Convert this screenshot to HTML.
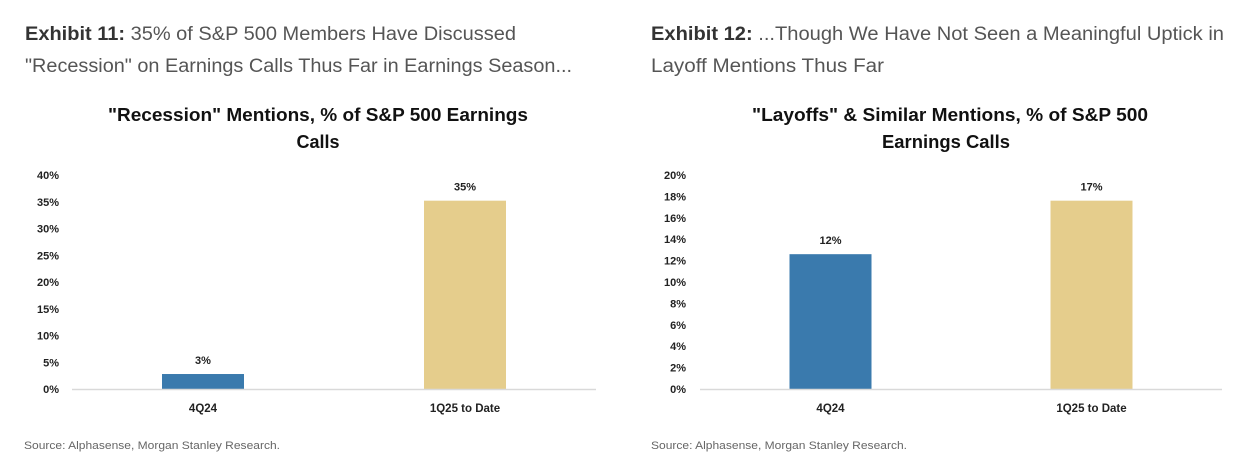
<!DOCTYPE html>
<html><head><meta charset="utf-8"><style>
html,body{margin:0;padding:0;background:#fff;}
svg{display:block;font-family:"Liberation Sans",sans-serif;}
</style></head><body>
<svg id="c" width="1236" height="474" viewBox="0 0 1236 474">
<g fill="#555" font-size="19">
<text x="25" y="40" textLength="491" lengthAdjust="spacingAndGlyphs"><tspan font-weight="bold" fill="#333">Exhibit 11:</tspan>  35% of S&amp;P 500 Members Have Discussed</text>
<text x="25" y="72" textLength="547" lengthAdjust="spacingAndGlyphs">"Recession" on Earnings Calls Thus Far in Earnings Season...</text>
</g>
<g fill="#555" font-size="19">
<text x="651" y="40" textLength="573" lengthAdjust="spacingAndGlyphs"><tspan font-weight="bold" fill="#333">Exhibit 12:</tspan>  ...Though We Have Not Seen a Meaningful Uptick in</text>
<text x="651" y="72" textLength="233" lengthAdjust="spacingAndGlyphs">Layoff Mentions Thus Far</text>
</g>
<g font-weight="bold" font-size="18" fill="#111" text-anchor="middle">
<text x="318" y="121" textLength="420" lengthAdjust="spacingAndGlyphs">"Recession" Mentions, % of S&amp;P 500 Earnings</text>
<text x="318" y="148">Calls</text>
</g>
<g font-weight="bold" font-size="18" fill="#111" text-anchor="middle">
<text x="950" y="121" textLength="396" lengthAdjust="spacingAndGlyphs">"Layoffs" &amp; Similar Mentions, % of S&amp;P 500</text>
<text x="946" y="148" textLength="128" lengthAdjust="spacingAndGlyphs">Earnings Calls</text>
</g>
<text x="24" y="449" font-size="11" fill="#666" textLength="256" lengthAdjust="spacingAndGlyphs">Source: Alphasense, Morgan Stanley Research.</text>
<text x="651" y="449" font-size="11" fill="#666" textLength="256" lengthAdjust="spacingAndGlyphs">Source: Alphasense, Morgan Stanley Research.</text>
<g id="left"></g>
<g id="right"></g>
</svg>
<script>
const categories = ["4Q24", "1Q25 to Date"];
const recessionValues = [2.8, 35.2];
const recessionLabels = ["3%", "35%"];
const recessionTicks = [0, 5, 10, 15, 20, 25, 30, 35, 40];
const layoffValues = [12.6, 17.6];
const layoffLabels = ["12%", "17%"];
const layoffTicks = [0, 2, 4, 6, 8, 10, 12, 14, 16, 18, 20];
const barColors = ["#3a7aad", "#e5cd8c"];
const NS = "http://www.w3.org/2000/svg";
function mk(tag, attrs, parent){const e=document.createElementNS(NS,tag);for(const k in attrs)e.setAttribute(k,attrs[k]);parent.appendChild(e);return e;}
function draw(g, prefix, cfg, values, labels, ticks){
  const y0=389, y1=175, maxV=ticks[ticks.length-1];
  const y=v=>y0-(v/maxV)*(y0-y1);
  const band=(cfg.x1-cfg.x0)/categories.length;
  const bw=82;
  const xc=i=>cfg.x0+band*(i+0.5);
  ticks.forEach(t=>{
    const tx=mk("text",{x:cfg.tickX,y:y(t)+4,"font-size":"11","font-weight":"bold",fill:"#222","text-anchor":"end"},g);
    
    
    tx.textContent=t+"%";
  });
  categories.forEach((c,i)=>{
    const r=mk("rect",{x:xc(i)-bw/2,y:y(values[i]),width:bw,height:y0-y(values[i]),fill:barColors[i]},g);
    
    
    const vl=mk("text",{x:xc(i),y:y(values[i])-10,"font-size":"11","font-weight":"bold",fill:"#222","text-anchor":"middle"},g);
    
    
    vl.textContent=labels[i];
    const cl=mk("text",{x:xc(i),y:412,"font-size":"11.5","font-weight":"bold",fill:"#222","text-anchor":"middle"},g);
    
    
    cl.textContent=c;
  });
  const ax=mk("line",{x1:cfg.x0,x2:cfg.x1,y1:y0+0.5,y2:y0+0.5,stroke:"#d9d9d9","stroke-width":"1.5"},g);
  
  
}
const L=document.getElementById("left");


draw(L,"recession",{x0:72,x1:596,tickX:59},recessionValues,recessionLabels,recessionTicks);
const R=document.getElementById("right");


draw(R,"layoffs",{x0:700,x1:1222,tickX:686},layoffValues,layoffLabels,layoffTicks);
</script>
</body></html>
